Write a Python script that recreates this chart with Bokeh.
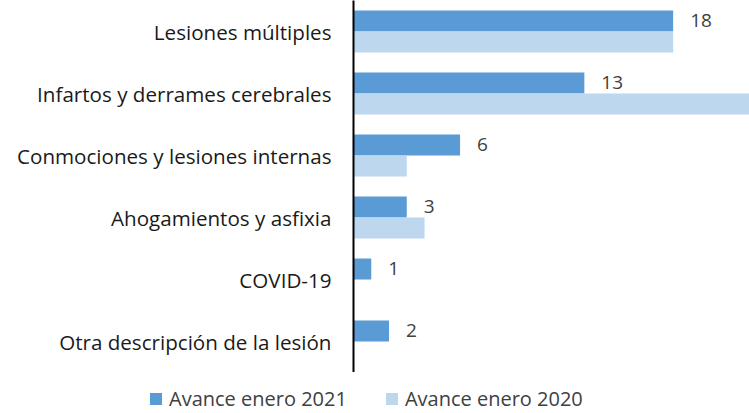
from bokeh.plotting import figure
from bokeh.layouts import column, row
from bokeh.models import ColumnDataSource, FactorRange, Legend, LegendItem, LabelSet
from bokeh.core.properties import value
from bokeh.transform import dodge
from bokeh.embed import file_html
from bokeh.resources import INLINE

categories = ["Lesiones múltiples", "Infartos y derrames cerebrales",
              "Conmociones y lesiones internas", "Ahogamientos y asfixia",
              "COVID-19", "Otra descripción de la lesión"]
values_2021 = [18, 13, 6, 3, 1, 2]
values_2020 = [18, 23, 3, 4, 0, 0]
series_names = ["Avance enero 2021", "Avance enero 2020"]

FONT = "Open Sans"
DARK = "#5B9BD5"
LIGHT = "#BDD7EE"
W = 749

src = ColumnDataSource(dict(cat=categories, v21=values_2021, v20=values_2020,
                            lab=[str(v) for v in values_2021]))

p = figure(width=W, height=372, output_backend="svg", toolbar_location=None,
           y_range=FactorRange(*reversed(categories), range_padding=0),
           x_range=(0, 22.3),
           min_border_left=353, min_border_right=0, min_border_top=0, min_border_bottom=0)
p.outline_line_color = None
p.grid.visible = False
p.xaxis.visible = False

r1 = p.hbar(y=dodge("cat", 0.17, range=p.y_range), right="v21", height=0.34,
            left=0, source=src, fill_color=DARK, line_color=None)
r2 = p.hbar(y=dodge("cat", -0.17, range=p.y_range), right="v20", height=0.34,
            left=0, source=src, fill_color=LIGHT, line_color=None)

labels = LabelSet(x="v21", y=dodge("cat", 0.17, range=p.y_range), text="lab",
                  source=src, x_offset=17, text_baseline="middle",
                  text_font=value(FONT), text_font_size="19px", text_color="#404040")
p.add_layout(labels)

ax = p.yaxis[0]
ax.major_tick_line_color = None
ax.minor_tick_line_color = None
ax.axis_line_color = "black"
ax.axis_line_width = 2
ax.major_label_standoff = 16
ax.major_label_text_font = FONT
ax.major_label_text_font_size = "20.6px"
ax.major_label_text_color = "#1a1a1a"

# legend strip below the chart (its renderers are hidden; only the legend shows)
lf = figure(width=W, height=40, output_backend="svg", toolbar_location=None,
            min_border_left=0, min_border_right=0, min_border_top=0, min_border_bottom=0,
            x_range=(0, 1), y_range=(0, 1))
lf.outline_line_color = None
lf.grid.visible = False
lf.axis.visible = False
l1 = lf.hbar(y="v21", right="v21", height=1, source=src, fill_color=DARK,
             line_color=None, visible=False)
l2 = lf.hbar(y="v20", right="v20", height=1, source=src, fill_color=LIGHT,
             line_color=None, visible=False)
legend = Legend(items=[LegendItem(label=series_names[0], renderers=[l1]),
                       LegendItem(label=series_names[1], renderers=[l2])],
                orientation="horizontal", location=(148, 0),
                glyph_width=15, glyph_height=15, spacing=37, padding=0,
                label_standoff=6, border_line_color=None, background_fill_alpha=0,
                inactive_fill_alpha=0,
                label_text_font=FONT, label_text_font_size="20px",
                label_text_color="#404040", margin=0)
lf.add_layout(legend, "center")

layout = column(p, row(lf, spacing=0), spacing=0)
open("out.html", "w").write(file_html(layout, INLINE))
